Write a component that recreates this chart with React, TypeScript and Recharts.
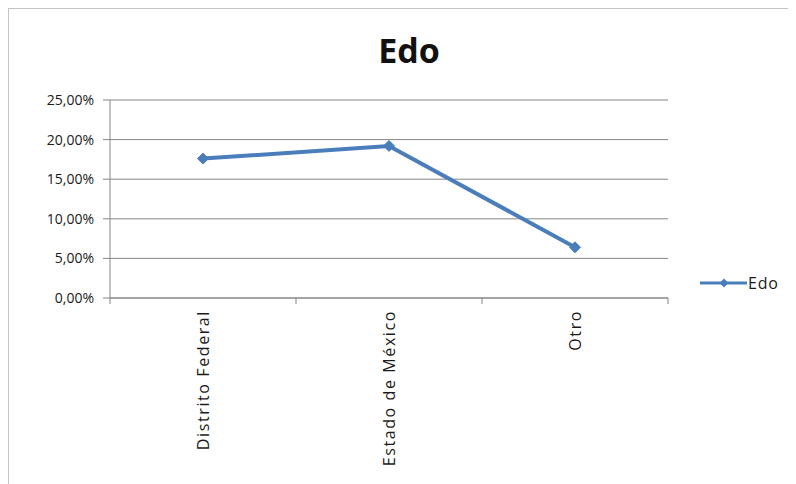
import React from 'react';
import {
  CartesianGrid, Legend, Line, LineChart, XAxis, YAxis,
} from 'recharts';

const categories: string[] = ['Distrito Federal', 'Estado de México', 'Otro'];
const edoValues: number[] = [0.176, 0.192, 0.064];
const yTicks: number[] = [0, 0.05, 0.1, 0.15, 0.2, 0.25];

const LINE_COLOR = '#4a7ebb';
const GRID_COLOR = '#868686';
const FONT = '"Open Sans", "DejaVu Sans", sans-serif';

interface EdoPoint {
  pos: number;
  name: string;
  edo: number;
}

// each category sits in the middle of its slot; integer positions are slot borders
const data: EdoPoint[] = categories.map((name, i) => ({
  pos: i + 0.5,
  name,
  edo: edoValues[i],
}));

const xTicks: number[] = [];
for (let i = 0; i <= categories.length; i++) {
  xTicks.push(i);
  if (i < categories.length) xTicks.push(i + 0.5);
}

function formatPercent(v: number): string {
  return (v * 100).toFixed(2).replace('.', ',') + '%';
}

function Diamond(props: any): JSX.Element {
  const { cx, cy, key } = props;
  const r = 5.5;
  return (
    <path
      key={key}
      d={`M${cx},${cy - r}L${cx + r},${cy}L${cx},${cy + r}L${cx - r},${cy}Z`}
      fill={LINE_COLOR}
      stroke={LINE_COLOR}
    />
  );
}

function CategoryTick(props: any): JSX.Element {
  const { x, y, payload } = props;
  const v: number = payload.value;
  if (Number.isInteger(v)) {
    return <line x1={x} y1={y} x2={x} y2={y + 6} stroke={GRID_COLOR} />;
  }
  const label = categories[Math.floor(v)];
  const ty = y + 12;
  return (
    <text
      x={x}
      y={ty}
      transform={`rotate(-90, ${x}, ${ty})`}
      textAnchor='end'
      dominantBaseline='central'
      fill='#1a1a1a'
      fontSize={16}
      letterSpacing={1.6}
      fontFamily={FONT}
    >
      {label}
    </text>
  );
}

function EdoLegend(): JSX.Element {
  return (
    <div style={{ display: 'flex', alignItems: 'center', width: 90, fontFamily: FONT }}>
      <svg width={47} height={14}>
        <line x1={0} y1={7} x2={47} y2={7} stroke={LINE_COLOR} strokeWidth={3} />
        <path d='M24,2.5L28.5,7L24,11.5L19.5,7Z' fill={LINE_COLOR} />
      </svg>
      <span style={{ fontSize: 16, color: '#1a1a1a', marginLeft: 1, letterSpacing: 0.8 }}>Edo</span>
    </div>
  );
}

export default function App(): JSX.Element {
  return (
    <div
      style={{
        position: 'relative',
        width: 787,
        height: 475,
        borderTop: '1px solid #c4c4c4',
        borderLeft: '1px solid #c4c4c4',
        background: '#fff',
      }}
    >
      <div
        style={{
          position: 'absolute',
          left: 0,
          width: 800,
          top: 24,
          textAlign: 'center',
          fontFamily: FONT,
          fontWeight: 700,
          fontSize: 34,
          lineHeight: '34px',
          color: '#111',
        }}
      >
        Edo
      </div>
      <LineChart
        width={787}
        height={475}
        data={data}
        margin={{
          top: 91, right: 38, left: 0, bottom: 0,
        }}
      >
        <CartesianGrid vertical={false} stroke={GRID_COLOR} />
        <XAxis
          dataKey='pos'
          type='number'
          domain={[0, categories.length]}
          ticks={xTicks}
          interval={0}
          height={186}
          stroke={GRID_COLOR}
          tickLine={false}
          tickSize={0}
          tickMargin={0}
          tick={<CategoryTick />}
        />
        <YAxis
          domain={[0, 0.25]}
          ticks={yTicks}
          interval={0}
          width={101}
          stroke={GRID_COLOR}
          tickSize={7}
          tickMargin={9}
          tickFormatter={formatPercent}
          tick={{ fill: '#1a1a1a', fontSize: 14, fontFamily: FONT }}
        />
        <Legend
          layout='vertical'
          align='right'
          verticalAlign='top'
          content={<EdoLegend />}
          wrapperStyle={{ left: 691, right: 'auto', top: 263 }}
        />
        <Line
          type='linear'
          dataKey='edo'
          stroke={LINE_COLOR}
          strokeWidth={4}
          dot={<Diamond />}
          activeDot={false}
          isAnimationActive={false}
        />
      </LineChart>
    </div>
  );
}
